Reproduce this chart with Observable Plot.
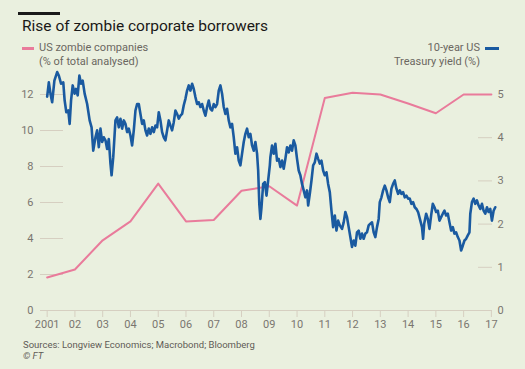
<!DOCTYPE html>
<html><head><meta charset="utf-8">
<script src="https://cdn.jsdelivr.net/npm/d3@7"></script>
<script src="https://cdn.jsdelivr.net/npm/@observablehq/plot@0.6"></script>
<style>
html,body{margin:0;padding:0;background:#eaf0df;}
#wrap{position:relative;width:525px;height:369px;background:#eaf0df;font-family:Roboto,"Noto Sans",sans-serif;overflow:hidden;}
.abs{position:absolute;white-space:nowrap;}
#bar{left:18px;top:12px;width:42px;height:3px;background:#1a1a1a;}
#title{left:22px;top:16px;font-size:15.5px;line-height:20px;color:#1a1817;}
.leg{font-size:11px;line-height:14px;color:#6b6761;}
.sw{position:absolute;height:2.5px;}
#chart{left:0;top:66px;}
.src{font-size:9.5px;line-height:12px;color:#5f5b56;}
</style></head>
<body><div id="wrap">
<div id="bar" class="abs"></div>
<div id="title" class="abs">Rise of zombie corporate borrowers</div>
<div class="sw" style="left:22px;top:47px;width:12px;background:#e97b9b"></div>
<div class="abs leg" style="left:39px;top:41px">US zombie companies</div>
<div class="abs leg" style="left:39px;top:55px">(% of total analysed)</div>
<div class="sw" style="left:485px;top:47px;width:14px;background:#1a5aa0"></div>
<div class="abs leg" style="right:45px;top:41px;text-align:right">10-year US</div>
<div class="abs leg" style="right:45px;top:55px;text-align:right">Treasury yield (%)</div>
<div id="chart" class="abs"></div>
<div class="abs src" style="left:23px;top:339px">Sources: Longview Economics; Macrobond; Bloomberg</div>
<div class="abs src" style="left:23px;top:350px;font-style:italic">© FT</div>
</div>
<script>
// US zombie companies (% of total analysed), annual
const zombieYears = [2001,2002,2003,2004,2005,2006,2007,2008,2009,2010,2011,2012,2013,2014,2015,2016,2017];
const zombiePct   = [1.83,2.28,3.9,4.95,7.05,4.95,5.03,6.65,6.9,5.83,11.8,12.1,12.0,11.5,10.96,12.0,12.0];

// 10-year US Treasury yield (%)
const treasuryDate = [
2001.00,2001.06,2001.12,2001.18,2001.26,2001.36,2001.42,2001.50,2001.58,2001.63,2001.69,2001.76,2001.81,2001.86,2001.92,2001.99,
2002.04,2002.10,2002.16,2002.22,2002.28,2002.35,2002.44,2002.53,2002.60,2002.66,2002.74,2002.80,2002.86,2002.92,2002.98,
2003.04,2003.10,2003.16,2003.22,2003.28,2003.32,2003.38,2003.46,2003.52,2003.58,2003.64,2003.70,2003.76,2003.82,2003.88,2003.94,
2004.00,2004.06,2004.12,2004.18,2004.24,2004.30,2004.36,2004.42,2004.48,2004.54,2004.60,2004.66,2004.72,2004.78,2004.84,2004.90,2004.96,
2005.02,2005.08,2005.14,2005.20,2005.26,2005.32,2005.38,2005.44,2005.50,2005.56,2005.62,2005.68,2005.74,2005.80,2005.86,2005.92,2005.98,
2006.04,2006.10,2006.16,2006.22,2006.28,2006.34,2006.40,2006.46,2006.52,2006.58,2006.64,2006.70,2006.76,2006.82,2006.88,2006.94,
2007.00,2007.06,2007.12,2007.18,2007.24,2007.30,2007.36,2007.42,2007.48,2007.54,2007.60,2007.66,2007.72,2007.78,2007.84,2007.90,2007.96,
2008.02,2008.08,2008.14,2008.20,2008.26,2008.32,2008.38,2008.44,2008.50,2008.56,2008.60,2008.64,2008.68,2008.72,2008.78,2008.84,2008.90,2008.96,
2009.02,2009.04,2009.10,2009.16,2009.22,2009.28,2009.34,2009.40,2009.46,2009.52,2009.58,2009.64,2009.70,2009.76,2009.82,2009.88,2009.94,
2010.00,2010.06,2010.12,2010.18,2010.24,2010.30,2010.36,2010.40,2010.46,2010.52,2010.58,2010.64,2010.70,2010.76,2010.82,2010.88,2010.94,
2011.00,2011.06,2011.12,2011.18,2011.24,2011.30,2011.36,2011.42,2011.48,2011.54,2011.62,2011.68,2011.74,2011.80,2011.86,2011.92,2011.98,
2012.04,2012.10,2012.16,2012.22,2012.28,2012.34,2012.40,2012.46,2012.52,2012.58,2012.64,2012.70,2012.76,2012.82,2012.88,2012.94,2012.98,
2013.04,2013.10,2013.16,2013.22,2013.28,2013.34,2013.40,2013.46,2013.52,2013.58,2013.64,2013.70,2013.76,2013.82,2013.88,2013.94,
2014.00,2014.06,2014.12,2014.18,2014.24,2014.30,2014.36,2014.44,2014.50,2014.54,2014.58,2014.65,2014.71,2014.77,2014.83,2014.89,2014.95,
2015.01,2015.07,2015.13,2015.19,2015.25,2015.31,2015.37,2015.43,2015.49,2015.55,2015.61,2015.67,2015.73,2015.79,2015.85,2015.91,2015.97,
2016.03,2016.09,2016.15,2016.21,2016.24,2016.30,2016.36,2016.42,2016.48,2016.54,2016.60,2016.66,2016.72,2016.78,2016.84,2016.90,2016.96,
2017.02,2017.08,2017.14];
const treasuryYield = [
4.95,5.28,5.02,4.82,5.32,5.52,5.44,5.25,5.28,4.86,4.59,4.63,4.32,4.86,5.21,5.02,
5.13,4.98,5.44,5.25,5.32,5.02,4.78,4.40,4.24,3.70,4.01,4.17,3.78,4.21,3.90,
4.01,3.94,3.74,3.97,3.40,3.13,3.55,4.40,4.47,4.24,4.44,4.21,4.40,4.32,4.13,4.21,
4.05,3.82,4.17,4.63,4.78,4.78,4.55,4.32,4.40,4.17,4.05,4.21,4.09,4.24,4.13,4.28,4.24,
4.59,4.40,4.13,4.01,3.94,4.17,4.40,4.28,4.17,4.36,4.63,4.55,4.44,4.51,4.55,4.75,4.90,
5.09,5.21,5.09,5.25,5.13,4.94,4.78,4.82,4.71,4.78,4.63,4.51,4.71,4.86,4.67,4.63,
4.78,4.71,4.78,5.09,5.21,5.02,4.71,4.55,4.67,4.40,4.24,4.32,4.01,3.63,3.78,3.47,3.36,
3.63,3.90,4.09,4.21,4.01,4.09,3.82,3.70,3.90,3.63,3.24,2.47,2.12,2.39,2.93,2.97,2.66,3.01,
3.36,3.55,3.82,3.63,3.86,3.47,3.51,3.32,3.47,3.28,3.51,3.78,3.66,3.82,3.70,3.94,3.82,
3.51,3.24,3.13,2.93,2.78,2.62,2.78,2.43,2.70,3.01,3.36,3.43,3.63,3.51,3.40,3.47,3.24,
3.13,3.20,2.93,2.74,2.31,1.93,2.20,1.85,2.08,1.97,1.89,2.04,2.28,2.16,1.93,1.70,1.47,
1.62,1.50,1.81,1.85,1.66,1.78,1.66,1.78,1.81,1.97,2.01,2.04,1.81,1.70,1.93,2.12,2.51,
2.62,2.78,2.89,2.78,2.62,2.51,2.82,2.93,3.01,2.82,2.70,2.78,2.70,2.74,2.62,2.66,
2.59,2.59,2.47,2.51,2.39,2.35,2.28,2.08,1.93,1.66,2.01,2.24,2.12,1.89,2.20,2.47,2.39,
2.28,2.31,2.08,2.16,2.24,2.31,2.20,2.24,2.04,1.85,1.93,1.78,1.81,1.70,1.62,1.39,1.50,
1.62,1.66,1.74,1.81,2.24,2.51,2.59,2.47,2.55,2.43,2.35,2.47,2.31,2.24,2.39,2.28,2.35,
2.08,2.31,2.39];

const xTicks = [2001,2002,2003,2004,2005,2006,2007,2008,2009,2010,2011,2012,2013,2014,2015,2016,2017];
const leftTicks = [0,2,4,6,8,10,12];
const rightTicks = [0,1,2,3,4,5];

const ratio = 12 / 5; // right axis 0–5 spans left axis 0–12
const zombie = zombieYears.map((y, i) => ({year: y, pct: zombiePct[i]}));
const treasury = treasuryDate.map((d, i) => ({date: d, yield: treasuryYield[i]}));

const gridColor = "#d6cfc1";
const textColor = "#7a766f";
const W = 525, mL = 40, mR = 33;
const frameW = W - mL - mR;

const chart = Plot.plot({
  width: W, height: 270,
  marginLeft: mL, marginRight: mR, marginTop: 28, marginBottom: 26,
  x: {domain: [2000.76, 2017.04]},
  y: {domain: [0, 12]},
  style: {background: "transparent", fontFamily: "Roboto, 'Noto Sans', sans-serif", fontSize: "11px", color: textColor, overflow: "visible"},
  marks: [
    Plot.tickY(leftTicks.filter(v => v > 0), {y: d => d, stroke: gridColor, insetRight: frameW - 23}),
    Plot.tickY(rightTicks.filter(v => v > 0 && v < 5), {y: d => d * ratio, stroke: gridColor, insetLeft: frameW - 14}),
    Plot.ruleY([0], {stroke: gridColor}),
    Plot.axisX(xTicks, {anchor: "bottom", tickSize: 7, tickPadding: 3, stroke: gridColor, fill: textColor, label: null,
      tickFormat: d => d === 2001 ? "2001" : String(d).slice(2)}),
    Plot.axisY(leftTicks, {anchor: "left", tickSize: 0, tickPadding: 7, fill: textColor, label: null}),
    Plot.axisY(rightTicks.map(v => v * ratio), {anchor: "right", tickSize: 0, tickPadding: 5, fill: textColor, label: null,
      tickFormat: d => String(Math.round(d / ratio))}),
    Plot.line(zombie, {x: "year", y: "pct", stroke: "#e97b9b", strokeWidth: 2}),
    Plot.line(treasury, {x: "date", y: d => d.yield * ratio, stroke: "#1a5aa0", strokeWidth: 2.6, strokeLinejoin: "round"})
  ]
});
document.getElementById("chart").appendChild(chart);
</script>
</body></html>
